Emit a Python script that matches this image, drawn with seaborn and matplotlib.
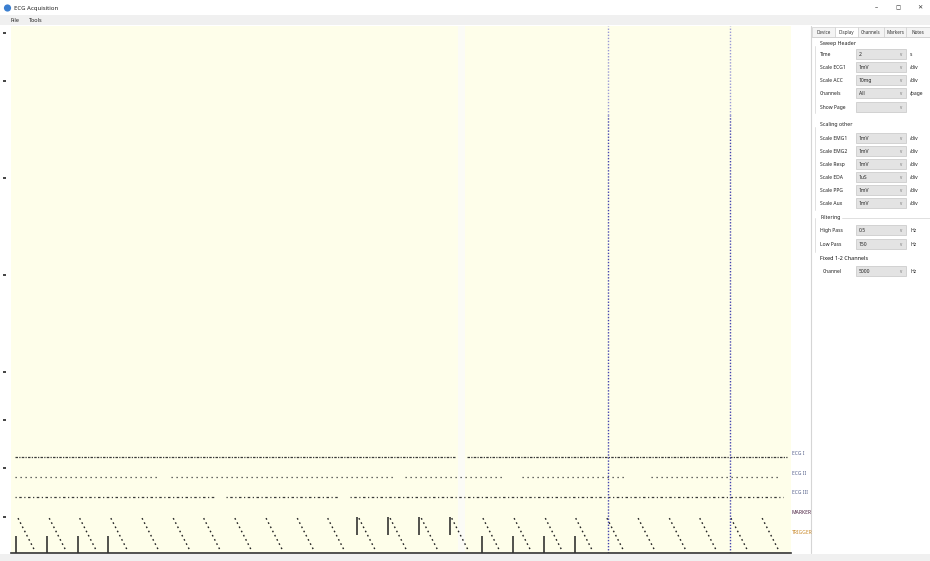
import numpy as np
import pandas as pd
import matplotlib
matplotlib.use("Agg")
import matplotlib.pyplot as plt
import matplotlib.transforms as mtransforms
from matplotlib.patches import Rectangle, Circle
import seaborn as sns

sns.set_theme(style="white")
plt.rcParams["font.family"] = ["Noto Sans", "DejaVu Sans"]

W, H = 930, 561

# --- chart values (time in s, amplitude in divisions) -----------------------
x_range = (0.0, 10.0)
y_range = (0.0, 10.89)
ytick_levels = [0.75, 1.75, 2.75, 3.75, 5.75, 7.75, 9.75, 10.75]

channel_names = ["ECG I", "ECG II", "ECG III", "MARKER", "TRIGGER"]
channel_label_levels = [2.06, 1.65, 1.25, 0.84, 0.43]
channel_label_colors = ["#55608a", "#55608a", "#55608a", "#4a2040", "#c98a2a"]

trace_levels = [1.98, 1.57, 1.16]
ch1_segments = [(0.05, 5.70), (5.85, 9.95)]
ch2_segments = [(0.05, 1.90), (2.05, 4.90), (5.05, 6.30), (6.55, 7.90), (8.20, 9.85)]
ch3_segments = [(0.05, 2.60), (2.75, 4.20), (4.35, 9.90)]
trace_dashes = [(2, 1, 1, 1), (1, 3), (1, 2, 2, 2)]

ramp_starts = [0.09, 0.49, 0.88, 1.28, 1.68, 2.08, 2.47, 2.87, 3.27, 3.67,
               4.06, 4.46, 4.86, 5.26, 5.65, 6.05, 6.45, 6.85, 7.24, 7.64,
               8.04, 8.44, 8.83, 9.23, 9.63]
ramp_width = 0.22
ramp_top = 0.72
ramp_bottom = 0.03

short_pulses = [0.06, 0.46, 0.86, 1.24, 6.04, 6.44, 6.83, 7.23]
short_pulse_span = (0.0, 0.35)
tall_pulses = [4.44, 4.83, 5.23, 5.63]
tall_pulse_span = (0.37, 0.74)

cursor_times = [7.65, 9.22]
cursor_split = 9.05  # cursor line is paler above this level
gap_span = (5.73, 5.82)

# --- side panel text --------------------------------------------------------
tab_names = ["Device", "Display", "Channels", "Markers", "Notes"]
sweep_rows = [("Time", "2", "s"), ("Scale ECG1", "1mV", "/div"),
              ("Scale ACC", "10mg", "/div"), ("Channels", "All", "/page"),
              ("Show Page", "", "")]
other_rows = [("Scale EMG1", "1mV", "/div"), ("Scale EMG2", "1mV", "/div"),
              ("Scale Resp", "1mV", "/div"), ("Scale EDA", "1uS", "/div"),
              ("Scale PPG", "1mV", "/div"), ("Scale Aux", "1mV", "/div")]
filter_rows = [("High Pass", "0.5", "Hz"), ("Low Pass", "150", "Hz")]
fixed_rows = [("Channel", "5000", "Hz")]


def box(x0, y0, x1, y1):
    return [x0 / W, 1 - y1 / H, (x1 - x0) / W, (y1 - y0) / H]


fig = plt.figure(figsize=(W / 100, H / 100), dpi=100)
fig.patch.set_facecolor("white")

# window chrome, drawn in pixel coordinates
ui = fig.add_axes([0, 0, 1, 1])
ui.set_xlim(0, W); ui.set_ylim(H, 0); ui.axis("off")
ui.add_patch(Rectangle((0, 15), W, 10, fc="#f0f0f0", ec="none"))
ui.add_patch(Rectangle((0, 554), W, 7, fc="#f0f0f0", ec="none"))
ui.add_patch(Circle((7.5, 8), 3.6, fc="#3b7fd0", ec="none"))
ui.text(14, 8.5, "ECG Acquisition", fontsize=4.3, va="center", color="#222")
for x, s in [(876, "–"), (898, "◻"), (920, "✕")]:
    ui.text(x, 8, s, fontsize=4.5, ha="center", va="center", color="#333")
ui.text(10, 20, "File", fontsize=4, va="center", color="#222")
ui.text(29, 20, "Tools", fontsize=4, va="center", color="#222")

# side panel
ui.plot([811, 811], [26, 553], color="#d5d5d5", lw=0.8)
tab_x = [812, 835, 858, 884, 906, 930]
for i, name in enumerate(tab_names):
    fc = "white" if i == 1 else "#f4f4f4"
    ui.add_patch(Rectangle((tab_x[i], 27), tab_x[i + 1] - tab_x[i], 10,
                           fc=fc, ec="#d0d0d0", lw=0.5))
    ui.text((tab_x[i] + tab_x[i + 1]) / 2, 32, name, fontsize=3.3,
            ha="center", va="center", color="#333")
ui.plot([812, 930], [37, 37], color="#d0d0d0", lw=0.5)


def draw_rows(rows, ys, label_x=820):
    for (label, value, unit), y in zip(rows, ys):
        ui.text(label_x, y, label, fontsize=3.6, va="center", color="#222")
        ui.add_patch(Rectangle((856, y - 5), 50, 10, fc="#e3e3e3",
                               ec="#c5c5c5", lw=0.5))
        ui.text(859, y, value, fontsize=3.6, va="center", color="#222")
        ui.text(901, y, "v", fontsize=3.2, ha="center", va="center", color="#777")
        ui.text(910, y, unit, fontsize=3.6, va="center", color="#222")


ui.text(820, 43.5, "Sweep Header", fontsize=3.8, va="center", color="#222")
ui.plot([815, 815], [46, 113], color="#dadada", lw=0.6)
draw_rows(sweep_rows, [54, 67, 80, 93, 107])

ui.text(820, 124.5, "Scaling other", fontsize=3.8, va="center", color="#222")
ui.plot([815, 815], [127, 210], color="#dadada", lw=0.6)
draw_rows(other_rows, [138, 151, 164, 177, 190, 203])

ui.text(820, 217, "Filtering", fontsize=3.8, va="center", color="#222")
ui.plot([815, 815], [218, 252], color="#dadada", lw=0.6)
ui.plot([842, 930], [218, 218], color="#dadada", lw=0.6)
draw_rows(filter_rows, [230, 244])

ui.text(820, 258, "Fixed 1-2 Channels", fontsize=3.9, va="center",
        color="#111", fontweight="bold")
draw_rows(fixed_rows, [271], label_x=823)

# --- main ECG chart ---------------------------------------------------------
ax = fig.add_axes(box(11, 26, 791, 553))
ax.set_facecolor("#fefeea")
ax.set_xlim(*x_range); ax.set_ylim(*y_range)
ax.axvspan(*gap_span, color="#fbfbf6", lw=0, zorder=0)

for level, segs, dash in zip(trace_levels,
                             [ch1_segments, ch2_segments, ch3_segments],
                             trace_dashes):
    df = pd.DataFrame([(i, t, level) for i, seg in enumerate(segs) for t in seg],
                      columns=["seg", "t", "v"])
    sns.lineplot(data=df, x="t", y="v", units="seg", estimator=None,
                 color="#3a3a3a", lw=0.9, ax=ax, legend=False)
    for line in ax.lines[-len(segs):]:
        line.set_dashes(dash)

ramps = pd.DataFrame(
    [(i, s, ramp_top) for i, s in enumerate(ramp_starts)]
    + [(i, s + ramp_width, ramp_bottom) for i, s in enumerate(ramp_starts)],
    columns=["ramp", "t", "v"])
sns.lineplot(data=ramps, x="t", y="v", units="ramp", estimator=None,
             color="#222222", lw=1.0, ax=ax, legend=False)
for line in ax.lines[-len(ramp_starts):]:
    line.set_dashes((1.2, 2.2))

ax.vlines(short_pulses, *short_pulse_span, color="#222222", lw=1.1)
ax.vlines(tall_pulses, *tall_pulse_span, color="#222222", lw=1.1)
ax.vlines(cursor_times, y_range[0], cursor_split, color="#4444b0", lw=1.0,
          ls=(0, (1, 1.2)))
ax.vlines(cursor_times, cursor_split, y_range[1], color="#9a9ad6", lw=1.0,
          ls=(0, (1, 1.2)))

blend = mtransforms.blended_transform_factory(ax.transAxes, ax.transData)
for name, lvl, col in zip(channel_names, channel_label_levels, channel_label_colors):
    ax.text(1.001, lvl, name, transform=blend, fontsize=3.6, color=col,
            va="center", ha="left", clip_on=False,
            fontweight="bold" if name == "MARKER" else "normal")

ax.set_xticks([])
ax.set_yticks(ytick_levels)
ax.set_yticklabels([])
ax.set_xlabel(""); ax.set_ylabel("")
for side in ["top", "right", "left"]:
    ax.spines[side].set_visible(False)
ax.spines["left"].set_position(("outward", 3.6))
ax.spines["bottom"].set_color("#333333")
ax.spines["bottom"].set_linewidth(1.2)
ax.tick_params(axis="y", left=True, direction="out", length=2.4, width=1.2,
               color="#222222")

fig.savefig("out.png", dpi=100)
